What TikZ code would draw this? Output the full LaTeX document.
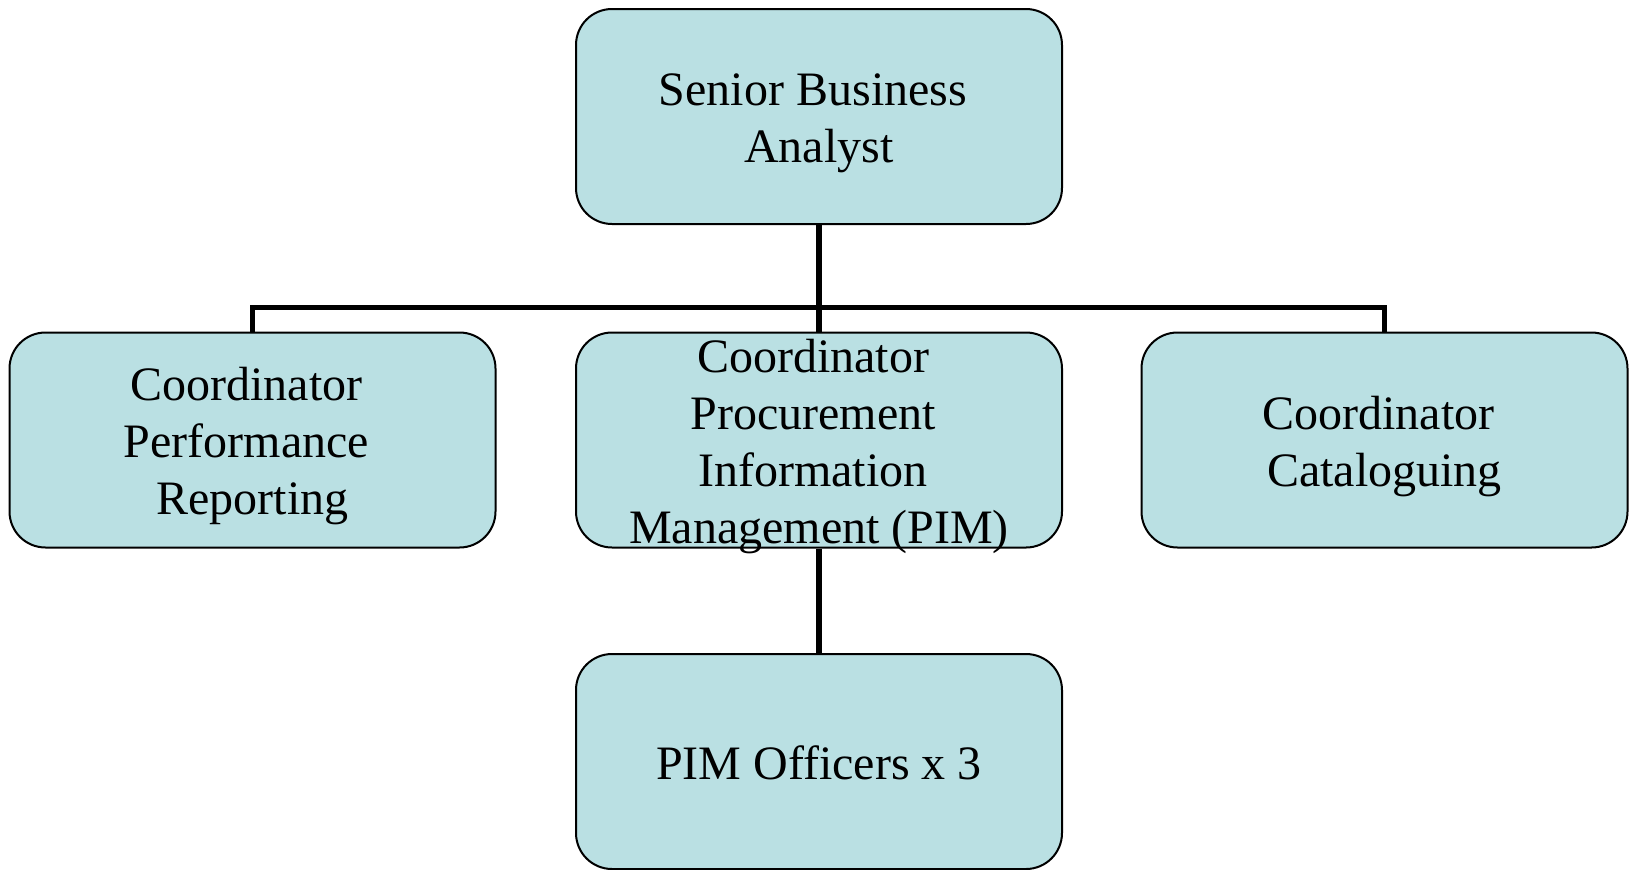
\documentclass[tikz,border=0pt]{standalone}
\usepackage{fontspec}
\setmainfont{Liberation Serif}
\definecolor{boxfill}{RGB}{186,224,227}
\newcommand\tsp{\kern0.25em}
\newcommand\lst{\rule[-5.5pt]{0pt}{28.5pt}}
\tikzset{
  orgbox/.style={draw=black, line width=1pt, fill=boxfill, rounded corners=18pt,
    minimum width=243pt, minimum height=107.5pt, inner sep=0pt, align=center,
    font=\fontsize{24pt}{28.5pt}\selectfont},
  link/.style={draw=black, line width=2.6pt}
}
\begin{document}
\begin{tikzpicture}[x=0.5pt, y=-0.5pt]
\useasboundingbox (0,0) rectangle (1629,869);
\node[orgbox] (top) at (819,116.5) {\lst Senior Business\tsp\\\lst Analyst};
\node[orgbox] (left) at (252.5,440) {\lst Coordinator\tsp\\\lst Performance\tsp\\\lst Reporting};
\node[orgbox, text height=103pt, text depth=0pt] (mid) at (819,440) {\lst Coordinator\tsp\\\lst Procurement\tsp\\\lst Information\tsp\\\lst Management (PIM)};
\node[orgbox] (right) at (1384.5,440) {\lst Coordinator\tsp\\\lst Cataloguing};
\node[orgbox] (bot) at (819,761.5) {\lst PIM Officers x 3};
\draw[link] (top.south) -- (mid.north);
\draw[link] (left.north) -- ++(0,-24) -| (right.north);
\draw[link] (mid.south) -- (bot.north);
\end{tikzpicture}
\end{document}
